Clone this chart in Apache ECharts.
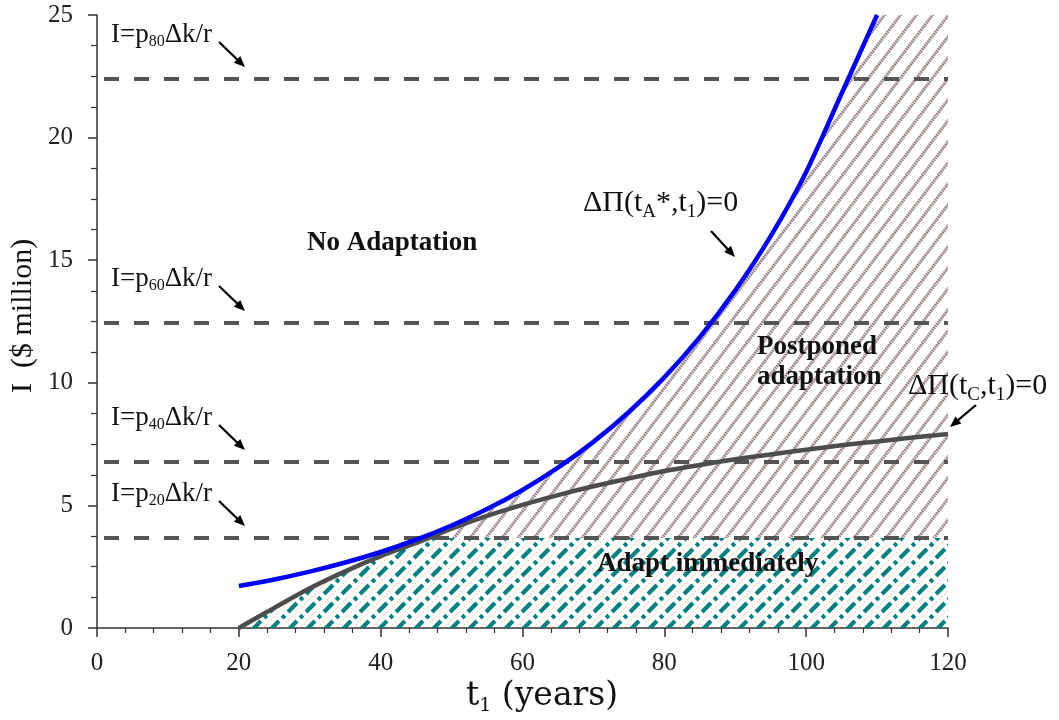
<!DOCTYPE html>
<html>
<head>
<meta charset="utf-8">
<title>Adaptation regions</title>
<script src="https://cdn.jsdelivr.net/npm/echarts@6/dist/echarts.min.js"></script>
<style>
  html, body { margin: 0; padding: 0; background: #ffffff; }
  #chart { width: 1059px; height: 720px; }
</style>
</head>
<body>
<div id="chart"></div>
<script>
// Boundary ΔΠ(tA*, t1) = 0  (investment at which postponing equals not adapting)
const yearsA = [20, 25, 30, 35, 40, 45, 50, 55, 60, 65, 70, 75, 80, 85, 90, 95, 100, 105, 110];
const boundA = [1.71, 1.98, 2.30, 2.67, 3.10, 3.60, 4.18, 4.85, 5.63, 6.54, 7.59, 8.81, 10.22, 11.86, 13.77, 15.98, 18.6, 21.8, 25.0];

// Boundary ΔΠ(tC, t1) = 0
const yearsC = [20, 25, 30, 35, 40, 45, 50, 55, 60, 65, 70, 75, 80, 85, 90, 95, 100, 105, 110, 115, 120];
const boundC = [0, 0.82, 1.62, 2.31, 2.93, 3.47, 4.05, 4.57, 5.02, 5.42, 5.78, 6.10, 6.40, 6.65, 6.88, 7.08, 7.27, 7.45, 7.61, 7.77, 7.91];

// Threshold investments I = p_n Δk / r
const thresholdNames = ['20', '40', '60', '80'];
const thresholdValues = [3.67, 6.77, 12.44, 22.39];

const xTicks = { min: 0, max: 120, step: 20 };
const yTicks = { min: 0, max: 25, step: 5 };

const SERIF = '"Liberation Serif", "Times New Roman", serif';
const WIDE_SERIF = '"DejaVu Serif", serif';

// ---- hatch tiles -------------------------------------------------------
// Parallel lines x/w + y/h = k + offset, drawn into a w x h tile. The dash
// period is fitted to the in-tile line length so the pattern repeats cleanly.
function makeHatch(w, h, layers) {
  const D = Math.sqrt(w * w + h * h);
  const cv = document.createElement('canvas');
  cv.width = w; cv.height = h;
  const g = cv.getContext('2d');
  layers.forEach(ly => {
    g.strokeStyle = ly.color;
    g.lineWidth = ly.width;
    g.lineCap = 'butt';
    let dash = [];
    if (ly.dash) {
      const sum = ly.dash.reduce((a, b) => a + b, 0);
      const n = Math.max(1, Math.round(D / sum));
      const sc = D / (n * sum);
      dash = ly.dash.map(d => d * sc);
    }
    const P = dash.length ? dash.reduce((a, b) => a + b, 0) : 1;
    for (let k = -2; k <= 3; k++) {
      const c = (ly.offset || 0) + k;
      const xs = -2 * w, ys = h * (c + 2);
      const xe = (c + 2) * w, ye = -2 * h;
      let ph = (xs * w - ys * h) / D + k * h * h / D;
      ph = ((ph % P) + P) % P;
      g.setLineDash(dash);
      g.lineDashOffset = ph;
      g.beginPath();
      g.moveTo(xs, ys);
      g.lineTo(xe, ye);
      g.stroke();
    }
  });
  return cv;
}

const postponeTile = makeHatch(16, 21, [
  { color: '#e2d9d9', width: 3.0 },
  { color: '#8a7272', width: 3.0, dash: [1.2, 1.2] }
]);
const immediateTile = makeHatch(18, 18, [
  { color: '#f2955a', width: 0.8, offset: 0.5, dash: [1.1, 1.3] },
  { color: '#008080', width: 4.2, dash: [8.5, 3, 2.6, 3] }
]);

// ---- region outlines built from the boundary data ----------------------
function crossing(xs, ys, level) {
  for (let i = 0; i < xs.length - 1; i++) {
    if (ys[i] < level && ys[i + 1] >= level) {
      return xs[i] + (level - ys[i]) / (ys[i + 1] - ys[i]) * (xs[i + 1] - xs[i]);
    }
  }
  return xs[xs.length - 1];
}

const lowT = thresholdValues[0];
const xEnd = xTicks.max;
const yTop = yTicks.max;

// Postponed adaptation: right of ΔΠ(tA*,t1)=0, above the lowest threshold
const tA0 = crossing(yearsA, boundA, lowT);
const postponedRegion = [[tA0, lowT]];
yearsA.forEach((t, i) => { if (t > tA0) postponedRegion.push([t, Math.min(boundA[i], yTop)]); });
postponedRegion.push([xEnd, yTop], [xEnd, lowT]);

// Adapt immediately: below ΔΠ(tC,t1)=0 and below the lowest threshold
const tC0 = crossing(yearsC, boundC, lowT);
const immediateRegion = [];
yearsC.forEach((t, i) => { if (t < tC0) immediateRegion.push([t, boundC[i]]); });
immediateRegion.push([tC0, lowT], [xEnd, lowT], [xEnd, 0], [yearsC[0], 0]);

function regionSeries(points, tile) {
  return {
    type: 'custom',
    silent: true,
    z: 1,
    data: [0],
    renderItem: function (params, api) {
      return {
        type: 'polygon',
        shape: { points: points.map(p => api.coord(p)) },
        style: { fill: { image: tile, repeat: 'repeat' }, stroke: null }
      };
    }
  };
}

const thresholdSeries = thresholdValues.map(v => ({
  type: 'line',
  silent: true,
  z: 3,
  symbol: 'none',
  data: [[xTicks.min, v], [xTicks.max, v]],
  lineStyle: { color: '#555555', width: 4, type: [15, 15], dashOffset: 23 }
}));

const chart = echarts.init(document.getElementById('chart'), null, { renderer: 'canvas' });

const tickFont = { fontFamily: SERIF, fontSize: 25, color: '#222222' };
const axisColor = '#333333';

chart.setOption({
  animation: false,
  backgroundColor: '#ffffff',
  grid: { left: 97, right: 111, top: 15, bottom: 92, containLabel: false },
  xAxis: {
    type: 'value', min: xTicks.min, max: xTicks.max, interval: xTicks.step,
    axisLine: { show: true, onZero: false, lineStyle: { color: axisColor, width: 1.5 } },
    axisTick: { show: true, inside: false, length: 9, lineStyle: { color: axisColor, width: 1.5 } },
    minorTick: { show: true, splitNumber: 5, length: 5, lineStyle: { color: axisColor, width: 1.2 } },
    splitLine: { show: false },
    axisLabel: Object.assign({ margin: 23 }, tickFont)
  },
  yAxis: {
    type: 'value', min: yTicks.min, max: yTicks.max, interval: yTicks.step,
    axisLine: { show: true, onZero: false, lineStyle: { color: axisColor, width: 1.5 } },
    axisTick: { show: true, inside: false, length: 9, lineStyle: { color: axisColor, width: 1.5 } },
    minorTick: { show: true, splitNumber: 4, length: 6, lineStyle: { color: axisColor, width: 1.2 } },
    splitLine: { show: false },
    axisLabel: Object.assign({ margin: 24 }, tickFont)
  },
  series: [
    regionSeries(postponedRegion, postponeTile),
    regionSeries(immediateRegion, immediateTile)
  ].concat(thresholdSeries).concat([
    {
      type: 'line', silent: true, z: 4, symbol: 'none', smooth: 0.3,
      data: yearsC.map((t, i) => [t, boundC[i]]),
      lineStyle: { color: '#4d4d4d', width: 4.5 }
    },
    {
      type: 'line', silent: true, z: 5, symbol: 'none', smooth: 0.3,
      data: yearsA.map((t, i) => [t, boundA[i]]),
      lineStyle: { color: '#0000ff', width: 4.5 }
    }
  ])
});

// ---- annotations ------------------------------------------------------
const measureCtx = document.createElement('canvas').getContext('2d');

// Lay out a label from pieces (main text and subscripts) along a baseline.
function pieces(x, baseline, parts, weight, family) {
  const fam = family || SERIF;
  const els = [];
  let cx = x;
  parts.forEach(p => {
    const fs = p.size;
    const font = (weight || 'normal') + ' ' + fs + 'px ' + fam;
    measureCtx.font = font;
    const w = measureCtx.measureText(p.t).width;
    els.push({
      type: 'text', z: 20,
      x: cx, y: baseline + (p.dy || 0) - 0.305 * fs,
      style: {
        text: p.t, font: font, fill: '#111111',
        align: 'left', textAlign: 'left',
        verticalAlign: 'middle', textVerticalAlign: 'middle'
      }
    });
    cx += w + (p.gap || 0);
  });
  return els;
}

function arrow(x1, y1, x2, y2) {
  const a = Math.atan2(y2 - y1, x2 - x1);
  const hl = 11, hw = 4.6;
  const bx = x2 - hl * Math.cos(a), by = y2 - hl * Math.sin(a);
  return [
    { type: 'line', z: 20, shape: { x1: x1, y1: y1, x2: bx + 2 * Math.cos(a), y2: by + 2 * Math.sin(a) },
      style: { stroke: '#000000', lineWidth: 2.2 } },
    { type: 'polygon', z: 20,
      shape: { points: [[x2, y2],
        [bx + hw * Math.sin(a), by - hw * Math.cos(a)],
        [bx - hw * Math.sin(a), by + hw * Math.cos(a)]] },
      style: { fill: '#000000' } }
  ];
}

const BIG = 27, SUB = 16, CURVE = 30, CSUB = 19;
let g = [];

// threshold labels, anchored to their dashed lines
thresholdValues.forEach((v, i) => {
  const yLine = chart.convertToPixel({ gridIndex: 0 }, [0, v])[1];
  const base = yLine - 36;
  g = g.concat(pieces(111, base, [
    { t: 'I=p', size: BIG },
    { t: thresholdNames[i], size: SUB, dy: 4 },
    { t: 'Δk/r', size: BIG }
  ]));
  g = g.concat(arrow(219, base - 1, 245, yLine - 12));
});

// curve labels
g = g.concat(pieces(583, 212, [
  { t: 'ΔΠ(t', size: CURVE },
  { t: 'A', size: CSUB, dy: 6 },
  { t: '*,t', size: CURVE },
  { t: '1', size: CSUB, dy: 6 },
  { t: ')=0', size: CURVE }
]));
g = g.concat(arrow(711, 231, 735, 257));

g = g.concat(pieces(908, 395, [
  { t: 'ΔΠ(t', size: CURVE },
  { t: 'C', size: CSUB, dy: 6 },
  { t: ',t', size: CURVE },
  { t: '1', size: CSUB, dy: 6 },
  { t: ')=0', size: CURVE }
]));
g = g.concat(arrow(976, 405, 950, 427));

// region labels
g = g.concat(pieces(307, 251, [{ t: 'No Adaptation', size: BIG }], 'bold'));
g = g.concat(pieces(757, 355, [{ t: 'Postponed', size: BIG }], 'bold'));
g = g.concat(pieces(757, 385, [{ t: 'adaptation', size: BIG }], 'bold'));
g = g.concat(pieces(597, 572, [{ t: 'Adapt immediately', size: BIG }], 'bold'));

// axis titles
g = g.concat(pieces(466, 706, [
  { t: 't', size: 33 },
  { t: '1', size: 19, dy: 6 },
  { t: ' (years)', size: 33 }
], 'normal', WIDE_SERIF));
g.push({
  type: 'group', x: 32, y: 393, rotation: Math.PI / 2,
  children: pieces(0, 0, [{ t: 'I  ($ million)', size: 30 }])
});

chart.setOption({ graphic: { elements: g } });
</script>
</body>
</html>
